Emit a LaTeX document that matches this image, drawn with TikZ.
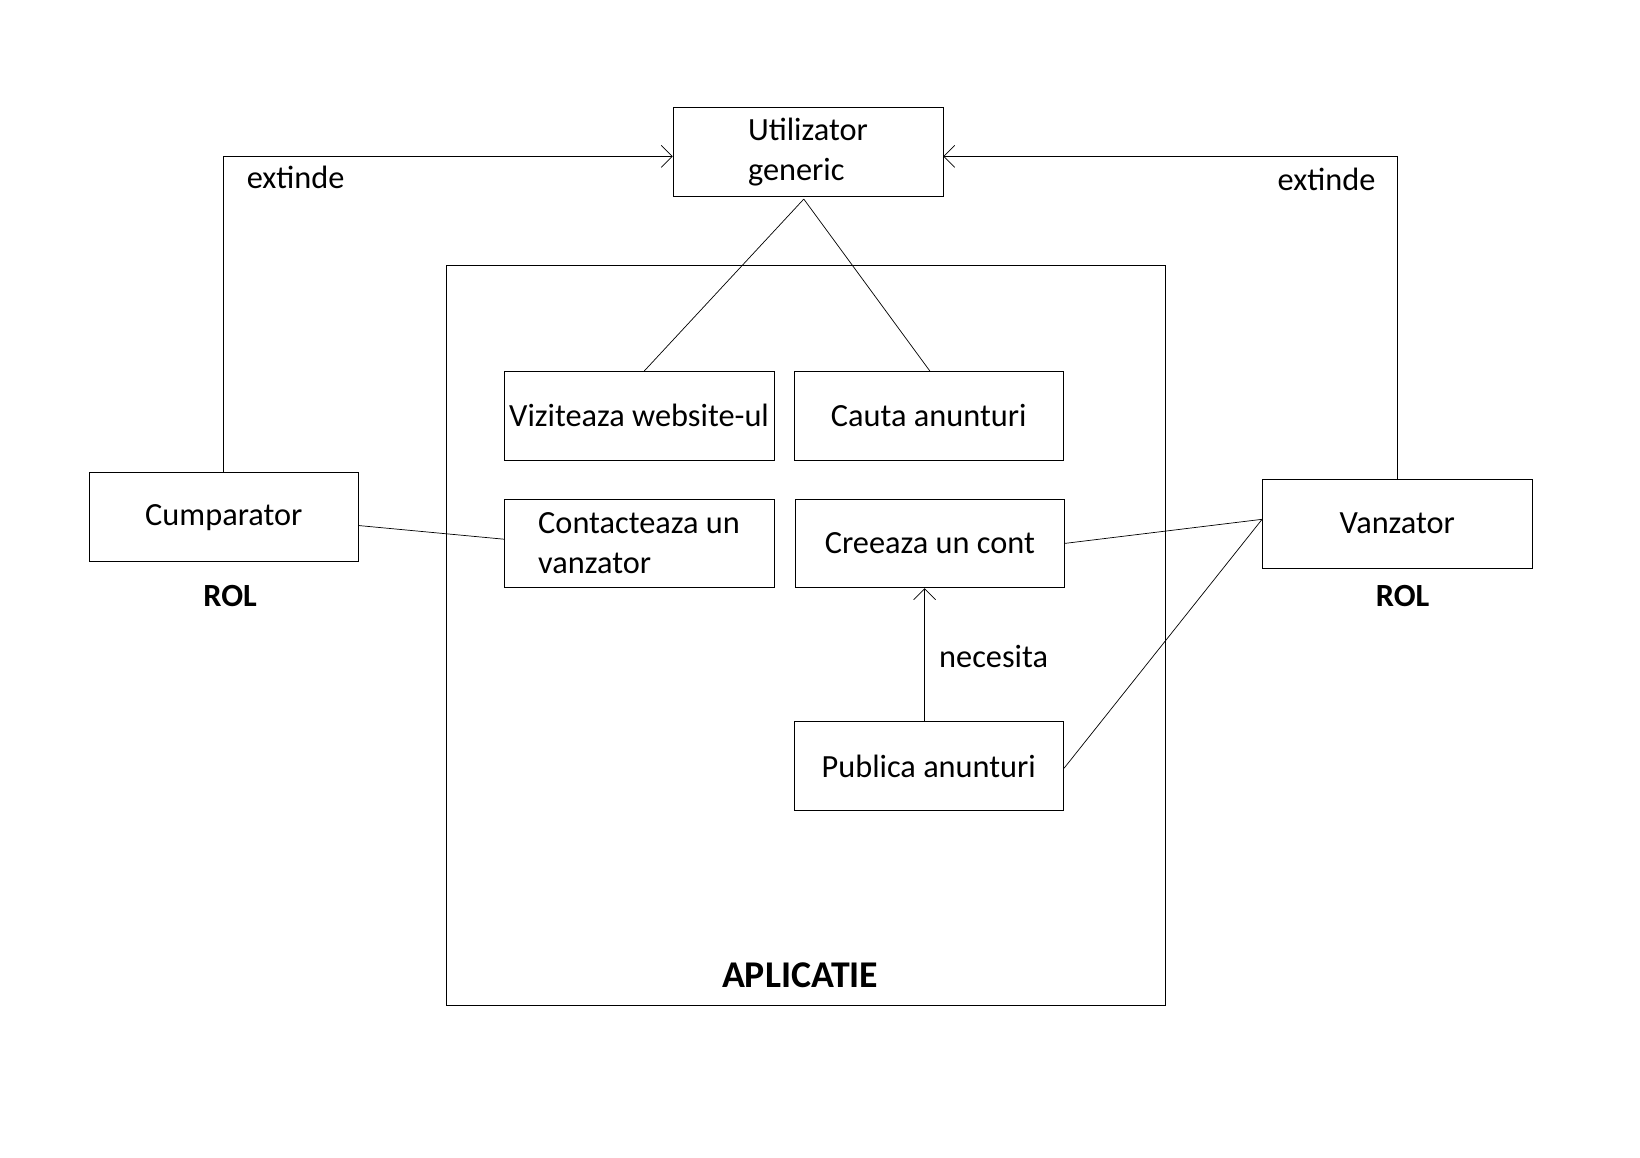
\documentclass[tikz,border=0pt]{standalone}
\usepackage{fontspec}
\setmainfont{Carlito}
\usetikzlibrary{positioning, calc, arrows.meta}

\begin{document}
\begin{tikzpicture}[x=0.020918cm, y=-0.020918cm,
  block/.style={rectangle,draw,minimum width=5.397cm,minimum height=1.778cm,align=center,inner sep=0pt,font=\fontsize{18.4}{22.5}\selectfont},
  frame/.style={rectangle,draw,minimum width=14.37cm,minimum height=14.79cm},
  label/.style={font=\fontsize{18.4}{22.5}\selectfont},
  bold/.style={font=\fontsize{18.4}{22.5}\selectfont\bfseries},
  barb/.style={-{Straight Barb[length=2.2mm,width=4.4mm]}}]
\useasboundingbox (0,0) rectangle (1568,1106.2);
\node (app) [frame] at (770.5,607.5) {};
\node (user) [block, align=left] at (772.5,145.5) {Utilizator\\generic};
\node (visit) [block] at (611,397.5) {Viziteaza website-ul};
\node (search) [block] at (888,397.5) {Cauta anunturi};
\node (contact) [block, align=left] at (611,519.5) {Contacteaza un\\vanzator};
\node (account) [block] at (889,519.5) {Creeaza un cont};
\node (publish) [block] at (888,732.5) {Publica anunturi};
\node (buyer) [block] at (214,494.5) {Cumparator};
\node (seller) [block] at (1336,500.5) {Vanzator};
\node (rolb) [bold] at (220,570) {ROL};
\node (rols) [bold] at (1341,570) {ROL};
\node (appname) [bold, font=\fontsize{21.5}{25}\selectfont\bfseries] at (765,932) {APLICATIE};
  \begin{scope}
    \draw [barb] (buyer.north) |- ($(user.west)+(0,4)$) node [label, pos=0.58, below=2pt] {extinde};
    \draw [barb] (seller.north) |- ($(user.east)+(0,4)$) node [label, pos=0.578, below=3pt] {extinde};
    \draw ($(user.south)+(-4,2)$) -- ($(visit.north)+(5,0)$);
    \draw ($(user.south)+(-4,2)$) -- ($(search.north)+(1,0)$);
    \draw ($(buyer.east)+(0,8)$) -- ($(contact.west)+(0,-4)$);
    \draw (account.east) -- ($(seller.west)+(0,-4)$);
    \draw ($(publish.east)+(0,2)$) -- ($(seller.west)+(0,-4)$);
    \draw [barb] ($(publish.north)+(-4,0)$) -- ($(account.south)+(-5,0)$);
    \node (need) [label] at (950,628) {necesita};
  \end{scope}
\end{tikzpicture}
\end{document}
